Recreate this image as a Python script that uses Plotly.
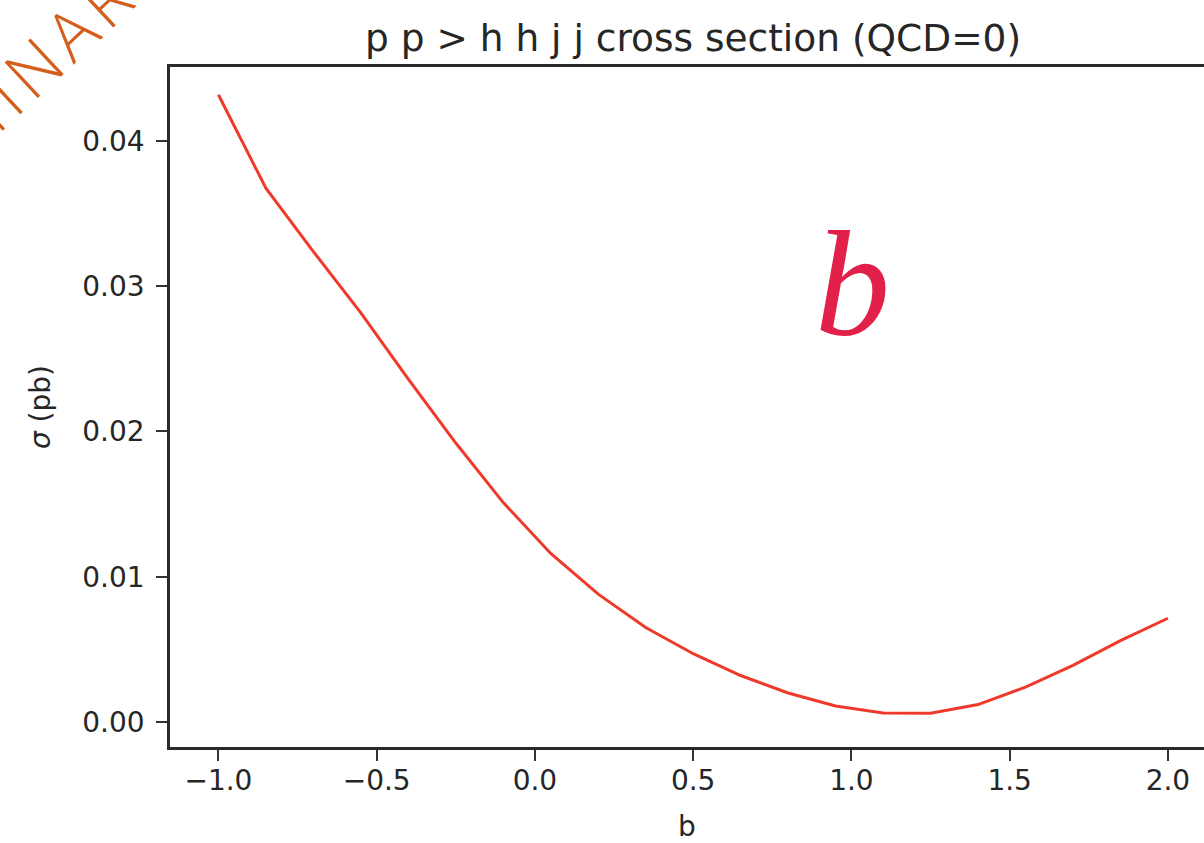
import plotly.graph_objects as go

# Coupling scan: cross section sigma (pb) versus b
b_values = [-1.0, -0.85, -0.7, -0.55, -0.4, -0.25, -0.1, 0.05, 0.2, 0.35, 0.5,
            0.65, 0.8, 0.95, 1.1, 1.25, 1.4, 1.55, 1.7, 1.85, 2.0]
sigma_pb = [0.04317, 0.03674, 0.03238, 0.02816, 0.02360, 0.01920, 0.01510,
            0.01160, 0.00880, 0.00650, 0.00470, 0.00320, 0.00200, 0.00110,
            0.00062, 0.00060, 0.00120, 0.00240, 0.00390, 0.00560, 0.00714]

x_ticks = [-1.0, -0.5, 0.0, 0.5, 1.0, 1.5, 2.0]
x_tick_text = ["\u22121.0", "\u22120.5", "0.0", "0.5", "1.0", "1.5", "2.0"]
y_ticks = [0.0, 0.01, 0.02, 0.03, 0.04]
y_tick_text = ["0.00", "0.01", "0.02", "0.03", "0.04"]

W, H = 1204, 843
L, R, T, B = 170, 0, 67, 96

FONT = "DejaVu Sans"
INK = "#262626"

fig = go.Figure()
fig.add_trace(go.Scatter(
    x=b_values, y=sigma_pb, mode="lines",
    line=dict(color="#ef3a2b", width=3),
    hoverinfo="skip", showlegend=False,
))

fig.update_layout(
    width=W, height=H,
    margin=dict(l=L, r=R, t=T, b=B, pad=0),
    paper_bgcolor="white", plot_bgcolor="white",
    font=dict(family=FONT, color=INK, size=28),
    title=dict(
        text="p p > h h j j cross section (QCD=0)",
        x=693 / W, xref="container", xanchor="center",
        y=1 - 38 / H, yref="container", yanchor="middle",
        font=dict(family=FONT, size=37.5, color=INK),
    ),
    xaxis=dict(
        range=[-1.153, 2.114],
        tickvals=x_ticks, ticktext=x_tick_text,
        ticks="outside", ticklen=11, tickwidth=2, tickcolor="#333333",
        showline=True, linecolor="#2a2a2a", linewidth=2.5, mirror=True,
        showgrid=False, zeroline=False,
        tickfont=dict(family=FONT, size=28, color=INK),
        ticklabelstandoff=-4,
        title=dict(text="b", font=dict(family=FONT, size=28, color=INK), standoff=23),
    ),
    yaxis=dict(
        range=[-0.00172, 0.04508],
        tickvals=y_ticks, ticktext=y_tick_text,
        ticks="outside", ticklen=11, tickwidth=2, tickcolor="#333333",
        showline=True, linecolor="#2a2a2a", linewidth=2.5, mirror=False,
        showgrid=False, zeroline=False,
        tickfont=dict(family=FONT, size=28, color=INK),
        ticklabelstandoff=6,
        title=dict(text="<i>σ</i> (pb)", font=dict(family=FONT, size=28, color=INK), standoff=24),
    ),
)

def px_to_paper(px, py):
    pw = W - L - R
    ph = H - T - B
    return (px - L) / pw, (H - B - py) / ph

# Large italic panel letter
bx, by = px_to_paper(852, 284)
fig.add_annotation(
    x=bx, y=by, xref="paper", yref="paper", showarrow=False,
    text="<i>b</i>", xanchor="center", yanchor="middle",
    font=dict(family="Liberation Serif", size=150, color="#e2214a"),
)

# Hand-lettered stamp running off the top-left corner
stamp = "\u200a".join("PRELIMINARY")
sx, sy = px_to_paper(-24, 120)
fig.add_annotation(
    x=sx, y=sy, xref="paper", yref="paper", showarrow=False,
    text=stamp, textangle=-43,
    xanchor="center", yanchor="middle",
    font=dict(family="Open Sans", size=68, weight=350, color="#d45f1c"),
)

fig.write_html("out.html")
